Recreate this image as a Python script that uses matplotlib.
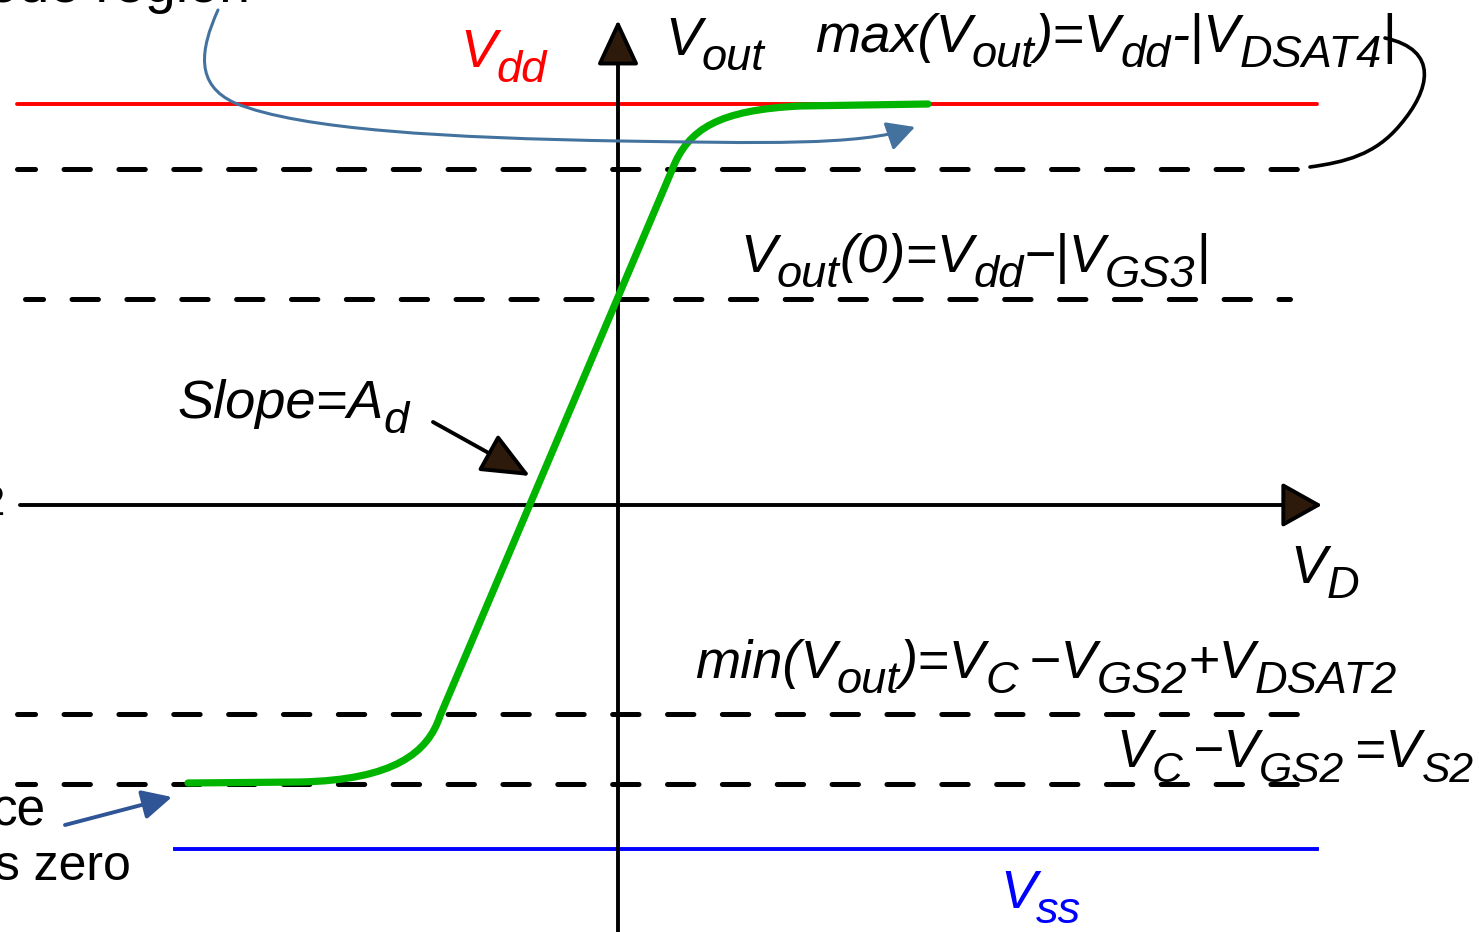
import matplotlib
matplotlib.use("Agg")
import matplotlib.pyplot as plt
from matplotlib import font_manager
from matplotlib.path import Path
from matplotlib.patches import FancyArrowPatch, PathPatch

plt.rcParams["font.family"] = ["Liberation Sans", "DejaVu Sans"]
plt.rcParams["lines.scale_dashes"] = False

# supply / bias levels on the Vout axis (pixel-style drawing units)
level_names = ["Vdd", "VDSAT4", "Vout0", "Vmin", "VS2", "Vss"]
level_y = [104, 169, 299, 714, 784, 849]
level_x0 = [17, 17, 25, 17, 17, 175]
level_x1 = [1317, 1317, 1290, 1317, 1317, 1317]

# transfer curve Vout(VD): knots and Bezier control points
curve_x = [188, 300, 395, 428, 440, 672, 688, 720, 800, 928]
curve_y = [783, 782, 780, 752, 716, 170, 128, 110, 106, 104]
curve_codes = [Path.MOVETO, Path.LINETO, Path.CURVE4, Path.CURVE4, Path.CURVE4,
               Path.LINETO, Path.CURVE4, Path.CURVE4, Path.CURVE4, Path.LINETO]

# "triode region" pointer
pointer_x = [218, 200, 195, 235, 300, 450, 620, 760, 860, 915]
pointer_y = [10, 50, 85, 103, 130, 138, 141, 143, 146, 127]

# brace linking max(Vout) to its dashed level
brace_x = [1385, 1440, 1430, 1400, 1375, 1345, 1310]
brace_y = [38, 50, 90, 125, 155, 162, 167]

origin = (618, 505)
x_axis_end = (20, 1322)
y_axis_end = (932, 20)

DARK_HEAD = "#2e1a0a"
THIN = "\u2009"


def pick_label_font():
    """Prefer the narrow Liberation face; scale the regular one if it is missing."""
    try:
        font_manager.findfont(font_manager.FontProperties(family="Liberation Sans Narrow"),
                              fallback_to_default=False)
        return "Liberation Sans Narrow", 1.08
    except ValueError:
        return "Liberation Sans", 0.93


LABEL_FAMILY, LABEL_SCALE = pick_label_font()


def put_label(ax, x, y, parts, color="black", size=42, sub_size=35, drop=15):
    """Write an italic label made of normal and subscript runs."""
    renderer = ax.figure.canvas.get_renderer()
    for text, sub in parts:
        t = ax.text(x, y + (drop if sub else 0), text,
                    fontsize=(sub_size if sub else size) * LABEL_SCALE,
                    family=[LABEL_FAMILY, "Liberation Sans"], style="italic",
                    color=color, ha="left", va="baseline")
        x += t.get_window_extent(renderer).width


def main():
    fig = plt.figure(figsize=(14.79, 9.32), dpi=100)
    ax = fig.add_axes([0, 0, 1, 1])
    ax.set_xlim(0, 1479)
    ax.set_ylim(932, 0)
    ax.axis("off")

    # horizontal reference levels
    for name, y, x0, x1 in zip(level_names, level_y, level_x0, level_x1):
        if name == "Vdd":
            ax.plot([x0, x1], [y, y], color="#ff0000", lw=2.8, solid_capstyle="round")
        elif name == "Vss":
            ax.plot([x0, x1], [y, y], color="#0000ff", lw=2.8)
        else:
            ax.plot([x0, x1], [y, y], color="black", lw=3.6,
                    linestyle=(6, (19, 20.5)), dash_capstyle="round")

    # axes with arrow heads
    ax.add_patch(FancyArrowPatch((x_axis_end[0], origin[1]), (x_axis_end[1], origin[1]),
                                 arrowstyle="-|>,head_length=25,head_width=14",
                                 mutation_scale=1, lw=2.8, edgecolor="black",
                                 facecolor=DARK_HEAD, shrinkA=0, shrinkB=0, zorder=3))
    ax.add_patch(FancyArrowPatch((origin[0], y_axis_end[0]), (origin[0], y_axis_end[1]),
                                 arrowstyle="-|>,head_length=28,head_width=13",
                                 mutation_scale=1, lw=2.8, edgecolor="black",
                                 facecolor=DARK_HEAD, shrinkA=0, shrinkB=0, zorder=3))

    # transfer curve
    curve = Path(list(zip(curve_x, curve_y)), curve_codes)
    ax.add_patch(PathPatch(curve, fill=False, edgecolor="#00b400", lw=5.2,
                           capstyle="round", zorder=4))

    # blue pointer into the top of the curve
    p_codes = [Path.MOVETO] + [Path.CURVE4] * 9
    ax.add_patch(FancyArrowPatch(path=Path(list(zip(pointer_x, pointer_y)), p_codes),
                                 arrowstyle="-|>,head_length=17,head_width=9",
                                 mutation_scale=1, lw=2.2, color="#44729e", zorder=5))

    # brace
    b_codes = [Path.MOVETO] + [Path.CURVE4] * 6
    ax.add_patch(PathPatch(Path(list(zip(brace_x, brace_y)), b_codes), fill=False,
                           edgecolor="black", lw=2.6, capstyle="round"))

    # slope pointer
    ax.add_patch(FancyArrowPatch((433, 422), (530, 476),
                                 arrowstyle="-|>,head_length=30,head_width=13",
                                 mutation_scale=1, lw=2.8, edgecolor="black",
                                 facecolor=DARK_HEAD, shrinkA=0, shrinkB=0, zorder=5))

    # bottom-left pointer
    ax.add_patch(FancyArrowPatch((65, 825), (172, 797),
                                 arrowstyle="-|>,head_length=18,head_width=9",
                                 mutation_scale=1, lw=2.8, color="#2f5597",
                                 shrinkA=0, shrinkB=0, zorder=5))

    # labels
    put_label(ax, 460, 67, [("V", 0), ("dd", 1)], color="#ff0000")
    put_label(ax, 665, 55, [("V", 0), ("out", 1)])
    put_label(ax, 815, 52, [("max(V", 0), ("out", 1), (")=V", 0), ("dd", 1),
                            ("-|V", 0), ("DSAT4", 1), ("|", 0)])
    put_label(ax, 740, 272, [("V", 0), ("out", 1), ("(0)=V", 0), ("dd", 1),
                             ("\u2212|V", 0), ("GS3", 1), ("|", 0)])
    put_label(ax, 177, 418, [("Slope=A", 0), ("d", 1)])
    put_label(ax, 1290, 583, [("V", 0), ("D", 1)])
    put_label(ax, 695, 678, [("min(V", 0), ("out", 1), (")=V", 0), ("C", 1),
                             (THIN + "\u2212V", 0), ("GS2", 1), ("+V", 0), ("DSAT2", 1)])
    put_label(ax, 1116, 767, [("V", 0), ("C", 1), (THIN + "\u2212V", 0), ("GS2", 1),
                              (THIN + "=V", 0), ("S2", 1)], size=41, sub_size=33)
    put_label(ax, 1000, 908, [("V", 0), ("ss", 1)], color="#0000ff")

    # notes running off the left/top edge
    ax.text(250, 2, "triode region", fontsize=40, ha="right", va="baseline")
    ax.text(46, 825, "ce", fontsize=37, ha="right", va="baseline")
    ax.text(131, 880, "es zero", fontsize=36, ha="right", va="baseline")
    ax.text(5, 515, "2", fontsize=30, ha="right", va="baseline")

    fig.savefig("out.png", dpi=100)


if __name__ == "__main__":
    main()
